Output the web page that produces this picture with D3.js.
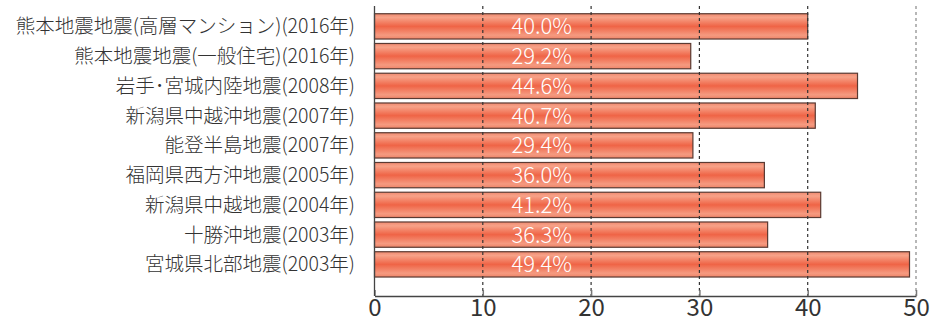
<!DOCTYPE html>
<html>
<head>
<meta charset="utf-8">
<script src="https://cdn.jsdelivr.net/npm/d3@7"></script>
<style>
  html, body { margin: 0; padding: 0; background: #fff; }
  svg { display: block; }
</style>
</head>
<body>
<div id="chart"></div>
<script>
(function () {
    // データ
    let categories = [
        '熊本地震地震(高層マンション)(2016年)',
        '熊本地震地震(一般住宅)(2016年)',
        '岩手･宮城内陸地震(2008年)',
        '新潟県中越沖地震(2007年)',
        '能登半島地震(2007年)',
        '福岡県西方沖地震(2005年)',
        '新潟県中越地震(2004年)',
        '十勝沖地震(2003年)',
        '宮城県北部地震(2003年)'
    ];
    let values = [40.0, 29.2, 44.6, 40.7, 29.4, 36.0, 41.2, 36.3, 49.4];
    let xTicks = [0, 10, 20, 30, 40, 50];

    let width = 932, height = 321;
    let font = '"Noto Sans CJK JP", "Noto Sans", sans-serif';

    let svg = d3.select('#chart')
        .append('svg')
        .attr('width', width)
        .attr('height', height);

    // グラデーション
    let grad = svg.append('defs')
        .append('linearGradient')
        .attr('id', 'barGrad')
        .attr('x1', 0).attr('y1', 0)
        .attr('x2', 0).attr('y2', 1);
    grad.append('stop').attr('offset', '0%').attr('stop-color', '#f08a70');
    grad.append('stop').attr('offset', '15%').attr('stop-color', '#f7a288');
    grad.append('stop').attr('offset', '50%').attr('stop-color', '#ef6446');
    grad.append('stop').attr('offset', '85%').attr('stop-color', '#f59a80');
    grad.append('stop').attr('offset', '100%').attr('stop-color', '#ee8468');

    //比例尺
    let x = d3.scaleLinear()
        .domain([0, 50])
        .range([374.5, 916]);

    let y = d3.scaleBand()
        .domain(categories)
        .range([11.5, 279.25])
        .paddingInner(0.15)
        .paddingOuter(0.075);

    let axisY = 296;

    // バー
    svg.selectAll('rect.bar')
        .data(values)
        .enter()
        .append('rect')
        .attr('class', 'bar')
        .attr('x', x(0))
        .attr('y', function (d, i) { return y(categories[i]); })
        .attr('width', function (d) { return x(d) - x(0); })
        .attr('height', y.bandwidth())
        .attr('fill', 'url(#barGrad)')
        .attr('stroke', '#5a3a32')
        .attr('stroke-width', 1.2);

    // グリッド線（点線）
    svg.selectAll('line.grid')
        .data(xTicks.slice(1))
        .enter()
        .append('line')
        .attr('class', 'grid')
        .attr('x1', function (d) { return x(d); })
        .attr('x2', function (d) { return x(d); })
        .attr('y1', 6)
        .attr('y2', axisY)
        .attr('stroke', function (d) { return d === 50 ? '#888' : '#333'; })
        .attr('stroke-width', 1.2)
        .attr('stroke-dasharray', '3,3');

    // 横軸
    let axis = d3.axisBottom(x)
        .tickValues(xTicks)
        .tickSizeInner(-6)
        .tickSizeOuter(0)
        .tickPadding(3);

    let gx = svg.append('g')
        .attr('transform', 'translate(0,' + axisY + ')')
        .call(axis);
    gx.select('.domain').attr('stroke', '#444').attr('stroke-width', 1.3);
    gx.selectAll('.tick line').attr('stroke', '#777').attr('stroke-width', 1.5);
    gx.selectAll('.tick text')
        .attr('font-family', font)
        .attr('font-size', 24)
        .attr('fill', '#333');

    // 縦軸線
    svg.append('line')
        .attr('x1', x(0)).attr('x2', x(0))
        .attr('y1', 6).attr('y2', axisY)
        .attr('stroke', '#444')
        .attr('stroke-width', 1.3);

    // カテゴリラベル
    svg.selectAll('text.cat')
        .data(categories)
        .enter()
        .append('text')
        .attr('class', 'cat')
        .attr('x', 355)
        .attr('y', function (d) { return y(d) + y.bandwidth() / 2; })
        .attr('dy', '0.36em')
        .attr('text-anchor', 'end')
        .attr('font-family', font)
        .attr('font-weight', 300)
        .attr('font-size', 19.5)
        .attr('fill', '#333')
        .text(function (d) { return d; });

    // 値ラベル
    svg.selectAll('text.val')
        .data(values)
        .enter()
        .append('text')
        .attr('class', 'val')
        .attr('x', x(15.45))
        .attr('y', function (d, i) { return y(categories[i]) + y.bandwidth() / 2; })
        .attr('dy', '0.36em')
        .attr('text-anchor', 'middle')
        .attr('font-family', font)
        .attr('font-weight', 300)
        .attr('font-size', 22)
        .attr('fill', '#fff')
        .text(function (d) { return d.toFixed(1) + '%'; });
})();
</script>
</body>
</html>
